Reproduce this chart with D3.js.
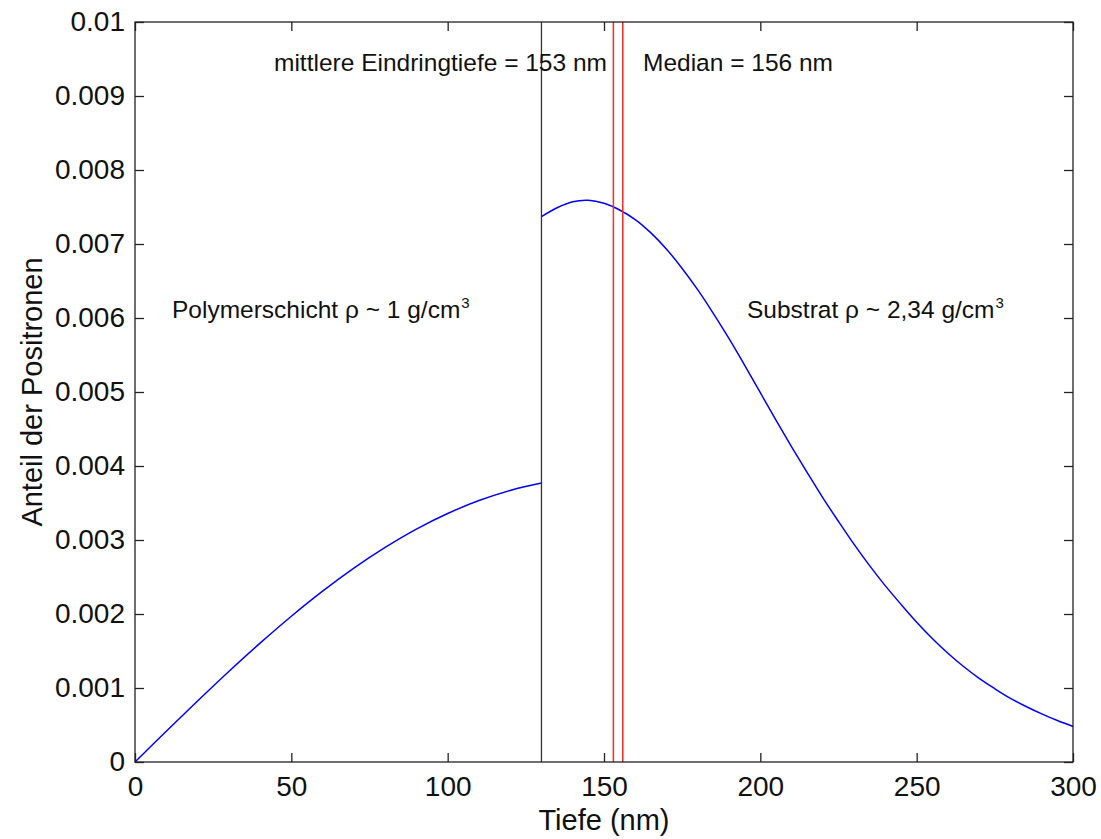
<!DOCTYPE html>
<html>
<head>
<meta charset="utf-8">
<script src="https://cdn.jsdelivr.net/npm/d3@7/dist/d3.min.js"></script>
<style>
  html, body { margin: 0; padding: 0; background: #fff; }
  svg { display: block; font-family: "Liberation Sans", Arial, sans-serif; }
</style>
</head>
<body>
<svg id="chart" width="1101" height="839"></svg>
<script>
// Depth (nm) and fraction of positrons stopped, polymer layer (0–130 nm)
const polymerDepth = [0, 10, 20, 30, 40, 50, 60, 70, 80, 90, 100, 110, 120, 130];
const polymerShare = [0, 0.000415, 0.000824, 0.001223, 0.001606, 0.00197, 0.002309, 0.002620, 0.002900, 0.003148, 0.003358, 0.003533, 0.003670, 0.003770];

// Substrate (130–300 nm)
const substrateDepth = [130, 135, 140, 145, 150, 155, 160, 165, 170, 175, 180, 185, 190, 195, 200, 205, 210, 215, 220, 225, 230, 235, 240, 245, 250, 255, 260, 265, 270, 275, 280, 285, 290, 295, 300];
const substrateShare = [0.00737, 0.00749, 0.00757, 0.00759, 0.00755, 0.00746, 0.00733, 0.00715, 0.00693, 0.00667, 0.00638, 0.00606, 0.00572, 0.00536, 0.00499, 0.00462, 0.00426, 0.00391, 0.00357, 0.00325, 0.00294, 0.00265, 0.00238, 0.00213, 0.00189, 0.00167, 0.00147, 0.00129, 0.00113, 0.00099, 0.00086, 0.00075, 0.00065, 0.00056, 0.00048];

// Vertical markers
const interfaceDepth = 130;
const meanDepth = 153;
const medianDepth = 156;

const xTicks = [0, 50, 100, 150, 200, 250, 300];
const yTicks = [0, 0.001, 0.002, 0.003, 0.004, 0.005, 0.006, 0.007, 0.008, 0.009, 0.01];
const yTickLabels = ["0", "0.001", "0.002", "0.003", "0.004", "0.005", "0.006", "0.007", "0.008", "0.009", "0.01"];

(function draw() {
  const svg = d3.select("#chart");
  const plotLeft = 135, plotRight = 1073, plotTop = 22, plotBottom = 762;

  const x = d3.scaleLinear().domain([0, 300]).range([plotLeft, plotRight]);
  const y = d3.scaleLinear().domain([0, 0.01]).range([plotBottom, plotTop]);

  const axisColor = "#222";
  const tickLen = 9;
  const tickFont = 28;
  const titleFont = 29;

  // Data lines
  const line = d3.line().x(d => x(d[0])).y(d => y(d[1])).curve(d3.curveCatmullRom);
  svg.append("path")
    .datum(polymerDepth.map((d, i) => [d, polymerShare[i]]))
    .attr("d", line).attr("fill", "none").attr("stroke", "#0000ff").attr("stroke-width", 1.5);
  svg.append("path")
    .datum(substrateDepth.map((d, i) => [d, substrateShare[i]]))
    .attr("d", line).attr("fill", "none").attr("stroke", "#0000ff").attr("stroke-width", 1.5);

  // Interface and mean/median markers
  svg.append("line")
    .attr("x1", x(interfaceDepth)).attr("x2", x(interfaceDepth))
    .attr("y1", y(0)).attr("y2", y(0.01))
    .attr("stroke", "#333").attr("stroke-width", 1.3);
  [meanDepth, medianDepth].forEach(v => {
    svg.append("line")
      .attr("x1", x(v)).attr("x2", x(v))
      .attr("y1", y(0)).attr("y2", y(0.01))
      .attr("stroke", "#ff2a2a").attr("stroke-width", 1.5);
  });

  // Box frame
  svg.append("rect")
    .attr("x", plotLeft).attr("y", plotTop)
    .attr("width", plotRight - plotLeft).attr("height", plotBottom - plotTop)
    .attr("fill", "none").attr("stroke", axisColor).attr("stroke-width", 1.3);

  // Axes with inward ticks on all four sides
  const xBottom = svg.append("g").attr("transform", `translate(0,${plotBottom})`)
    .call(d3.axisBottom(x).tickValues(xTicks).tickSizeInner(-tickLen).tickSizeOuter(0).tickPadding(14).tickFormat(d3.format("d")));
  const xTop = svg.append("g").attr("transform", `translate(0,${plotTop})`)
    .call(d3.axisTop(x).tickValues(xTicks).tickSizeInner(-tickLen).tickSizeOuter(0).tickFormat(""));
  const yLeft = svg.append("g").attr("transform", `translate(${plotLeft},0)`)
    .call(d3.axisLeft(y).tickValues(yTicks).tickSizeInner(-tickLen).tickSizeOuter(0).tickPadding(10)
      .tickFormat((d, i) => yTickLabels[i]));
  const yRight = svg.append("g").attr("transform", `translate(${plotRight},0)`)
    .call(d3.axisRight(y).tickValues(yTicks).tickSizeInner(-tickLen).tickSizeOuter(0).tickFormat(""));

  [xBottom, xTop, yLeft, yRight].forEach(g => {
    g.select(".domain").remove();
    g.selectAll(".tick line").attr("stroke", axisColor).attr("stroke-width", 1.3);
    g.selectAll(".tick text").attr("fill", "#111").style("font-size", tickFont + "px")
      .style("font-family", "'Liberation Sans', Arial, sans-serif");
  });
  xBottom.selectAll(".tick text").attr("dy", "0.71em");

  // Axis titles
  svg.append("text")
    .attr("x", (plotLeft + plotRight) / 2).attr("y", 830)
    .attr("text-anchor", "middle").attr("fill", "#111")
    .style("font-size", titleFont + "px")
    .text("Tiefe (nm)");
  svg.append("text")
    .attr("transform", `translate(42,${(plotTop + plotBottom) / 2}) rotate(-90)`)
    .attr("text-anchor", "middle").attr("fill", "#111")
    .style("font-size", titleFont + "px")
    .text("Anteil der Positronen");

  // Annotations
  const annSize = 24.5;
  svg.append("text").attr("x", 274).attr("y", 71).attr("fill", "#111")
    .style("font-size", annSize + "px")
    .text("mittlere Eindringtiefe = " + meanDepth + " nm");
  svg.append("text").attr("x", 643).attr("y", 71).attr("fill", "#111")
    .style("font-size", annSize + "px")
    .text("Median = " + medianDepth + " nm");

  function densityLabel(xPos, text) {
    const t = svg.append("text").attr("x", xPos).attr("y", 318).attr("fill", "#111")
      .style("font-size", annSize + "px");
    t.append("tspan").text(text);
    t.append("tspan").attr("dx", 1).attr("dy", -10).style("font-size", "15px").text("3");
  }
  densityLabel(172, "Polymerschicht ρ ~ 1 g/cm");
  densityLabel(747, "Substrat ρ ~ 2,34 g/cm");
})();
</script>
</body>
</html>
